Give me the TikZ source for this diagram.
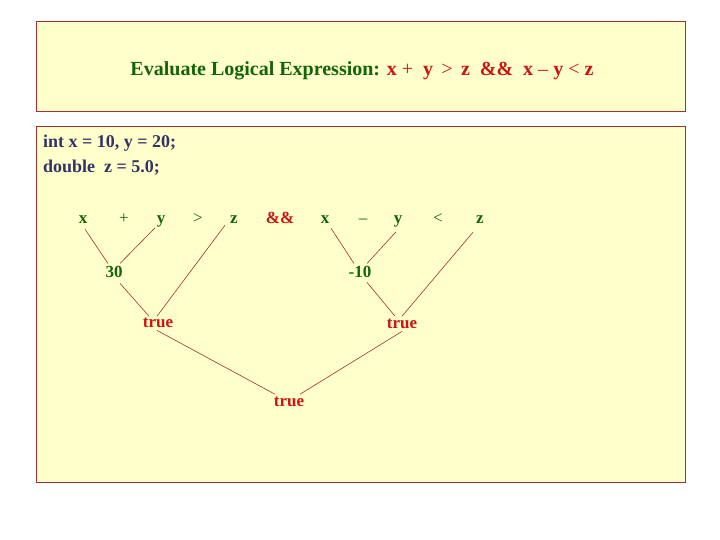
\documentclass[tikz,border=0pt]{standalone}
\usepackage{fontspec}
\setmainfont{Liberation Serif}
\definecolor{boxfill}{RGB}{255,255,204}
\definecolor{boxline}{RGB}{160,50,50}
\definecolor{dgreen}{RGB}{20,100,10}
\definecolor{dred}{RGB}{204,20,20}
\definecolor{navy}{RGB}{51,51,102}
\begin{document}
\begin{tikzpicture}[x=1pt,y=-1pt,
  panel/.style={draw=boxline,fill=boxfill,line width=0.8pt},
  leaf/.style={anchor=base,inner sep=2pt,font=\fontsize{17}{20}\selectfont\bfseries,text=dgreen},
  oper/.style={anchor=base,inner sep=2pt,font=\fontsize{17}{20}\selectfont,text=dgreen},
  val/.style={anchor=base,inner sep=2pt,font=\fontsize{17}{20}\selectfont\bfseries,text=dgreen},
  res/.style={anchor=base,inner sep=2pt,font=\fontsize{17}{20}\selectfont\bfseries,text=dred},
  code/.style={anchor=base west,inner sep=0pt,font=\fontsize{18}{22}\selectfont\bfseries,text=navy},
  edge/.style={draw=boxline,line width=0.6pt}]
\useasboundingbox (0,0) rectangle (720,540);
\draw[panel] (36,21) rectangle (685,111);
\draw[panel] (36,126) rectangle (685,482);
\node[anchor=base,inner sep=0pt,font=\fontsize{20}{24}\selectfont] (title) at (362,76)
  {\textcolor{dgreen}{\bfseries Evaluate Logical Expression:} \textcolor{dred}{\textbf{x} +\ \ \textbf{y} \,>\, \textbf{z}\ \ \textbf{\&\&}\ \ \textbf{x} – \textbf{y} < \textbf{z}}};
\node[code] (c1) at (43,148) {int x = 10, y = 20;};
\node[code] (c2) at (43,173) {double\ \ z = 5.0;};
% leaves
\node[leaf] (x1) at (83,224) {x};
\node[oper] (p1) at (124,224) {+};
\node[leaf] (y1) at (161,224) {y};
\node[oper] (g1) at (198,224) {>};
\node[leaf] (z1) at (234,224) {z};
\node[res]  (a1) at (280,224) {\&\&};
\node[leaf] (x2) at (325,224) {x};
\node[oper] (m1) at (363,224) {–};
\node[leaf] (y2) at (398,224) {y};
\node[oper] (l1) at (438,224) {<};
\node[leaf] (z2) at (480,224) {z};
% intermediate
\node[val] (n30) at (114,277) {30};
\node[val] (nm10) at (360,277) {-10};
\node[res] (tl) at (158,327) {true};
\node[res] (tr) at (402,328) {true};
\node[res] (tb) at (289,406) {true};
% connectors
\draw[edge] ([xshift=2pt,yshift=-3pt]x1.south) -- ([xshift=-6pt]n30.north);
\draw[edge] ([xshift=-6pt,yshift=2pt]y1.south) -- ([xshift=6pt]n30.north);
\draw[edge] ([xshift=6pt,yshift=-4pt]n30.south) -- ([xshift=-9pt,yshift=-1pt]tl.north);
\draw[edge] ([xshift=-9pt,yshift=1pt]z1.south) -- ([xshift=-1pt,yshift=-1pt]tl.north);
\draw[edge] ([xshift=6pt,yshift=-2pt]x2.south) -- ([xshift=-6pt]nm10.north);
\draw[edge] ([xshift=-2pt,yshift=-2pt]y2.south) -- ([xshift=7pt]nm10.north);
\draw[edge] ([xshift=7pt,yshift=-3pt]nm10.south) -- ([xshift=-7pt]tr.north);
\draw[edge] ([xshift=-7pt,yshift=-6pt]z2.south) -- (tr.north);
\draw[edge] ([xshift=-1pt,yshift=-1pt]tl.south) -- ([xshift=-14pt]tb.north);
\draw[edge] ([yshift=-1pt]tr.south) -- ([xshift=11pt]tb.north);
\end{tikzpicture}
\end{document}
